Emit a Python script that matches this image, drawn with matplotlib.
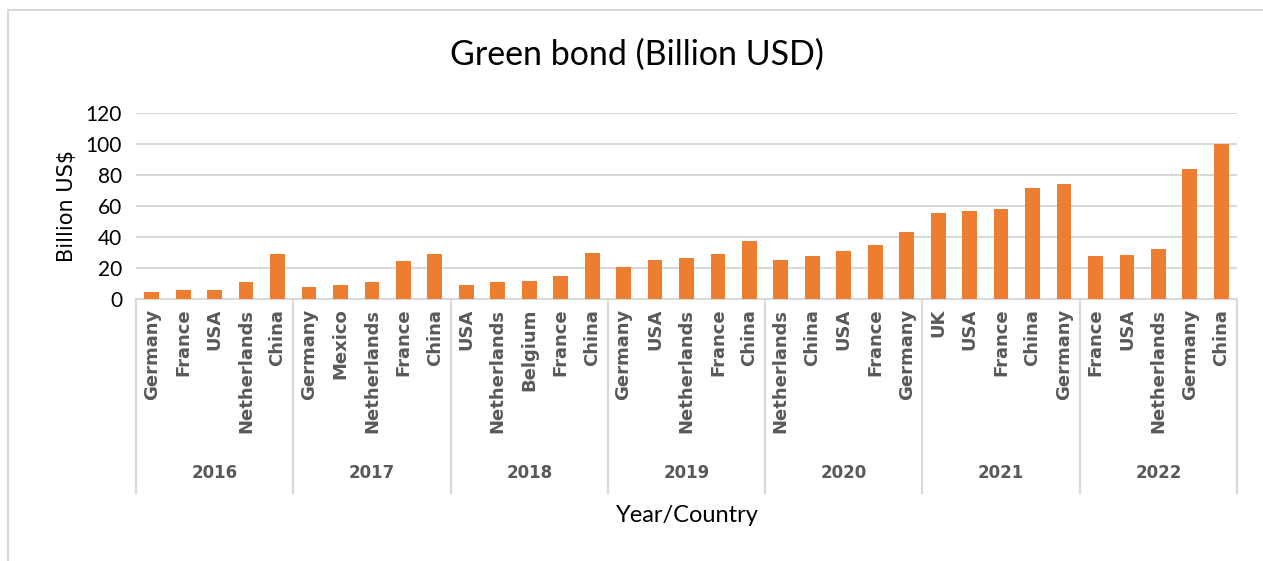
import matplotlib.pyplot as plt
import matplotlib.transforms as mtransforms
from matplotlib.patches import Rectangle

years = ["2016", "2017", "2018", "2019", "2020", "2021", "2022"]
countries = [
    ["Germany", "France", "USA", "Netherlands", "China"],
    ["Germany", "Mexico", "Netherlands", "France", "China"],
    ["USA", "Netherlands", "Belgium", "France", "China"],
    ["Germany", "USA", "Netherlands", "France", "China"],
    ["Netherlands", "China", "USA", "France", "Germany"],
    ["UK", "USA", "France", "China", "Germany"],
    ["France", "USA", "Netherlands", "Germany", "China"],
]
values = [
    [4.3, 5.8, 5.8, 10.8, 29.1],
    [7.8, 8.8, 10.8, 24.6, 29.1],
    [8.8, 11.2, 11.6, 14.7, 29.5],
    [20.7, 25.2, 26.5, 29.1, 37.7],
    [25.0, 27.6, 30.8, 34.9, 43.5],
    [55.2, 56.5, 57.8, 71.3, 74.1],
    [27.8, 28.7, 32.3, 83.8, 99.8],
]

BAR = "#ED7D31"
GRID = "#D9D9D9"
TXT = "#595959"

fig = plt.figure(figsize=(12.63, 5.61), dpi=100)
ax = fig.add_axes([136 / 1263, 1 - 299 / 561, (1237 - 136) / 1263, (299 - 113) / 561])

# flatten groups
labels, heights = [], []
for c, v in zip(countries, values):
    labels += c
    heights += v
xs = list(range(len(heights)))

ax.bar(xs, heights, width=0.47, color=BAR, zorder=3)
ax.set_xlim(-0.5, len(heights) - 0.5)
ax.set_ylim(0, 120)
ax.set_yticks(range(0, 121, 20))
ax.yaxis.grid(True, color=GRID, linewidth=1.5, zorder=0)
ax.tick_params(axis="y", length=0, labelsize=15, labelcolor="#000000", pad=10)
for lab in ax.get_yticklabels():
    lab.set_family("Lato")

ax.set_xticks(xs)
ax.set_xticklabels(labels, rotation=90, fontsize=13, fontweight="bold",
                   color=TXT, family="DejaVu Sans")
ax.tick_params(axis="x", length=0, pad=7)

for side in ["top", "right", "left"]:
    ax.spines[side].set_visible(False)
ax.spines["bottom"].set_color(GRID)
ax.spines["bottom"].set_linewidth(1.5)

# year group labels and separators
trans = mtransforms.blended_transform_factory(ax.transData, ax.transAxes)
n = 0
for yr, c in zip(years, countries):
    center = n + (len(c) - 1) / 2
    ax.text(center, -0.935, yr, transform=trans, ha="center", va="center",
            fontsize=12, fontweight="bold", color=TXT, family="DejaVu Sans")
    ax.plot([n - 0.5, n - 0.5], [0, -1.043], transform=trans, color=GRID,
            linewidth=1.5, clip_on=False)
    n += len(c)
ax.plot([n - 0.5, n - 0.5], [0, -1.043], transform=trans, color=GRID,
        linewidth=1.5, clip_on=False)

ax.set_ylabel("Billion US$", fontsize=15, labelpad=6, family="DejaVu Sans")

fig.text(637 / 1263, 1 - 55 / 561, "Green bond (Billion USD)", ha="center",
         va="center", fontsize=24.5, family="Lato")
fig.text(687 / 1263, 1 - 516 / 561, "Year/Country", ha="center", va="center",
         fontsize=17, family="Lato")

# chart border
fig.patches.append(Rectangle((8 / 1263, -0.1), 1.2, 1 - 10 / 561 + 0.1,
                             transform=fig.transFigure, fill=False,
                             edgecolor=GRID, linewidth=1.5))

fig.savefig("out.png", dpi=100)
